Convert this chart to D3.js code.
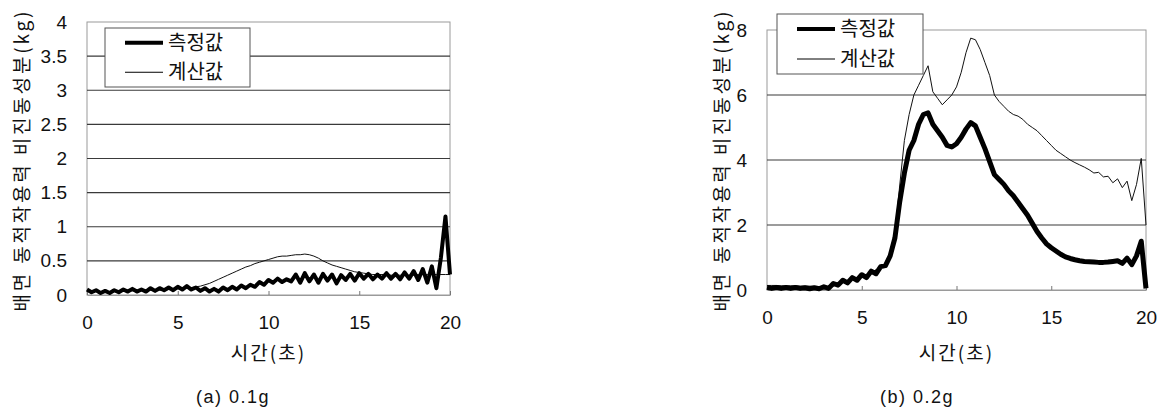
<!DOCTYPE html>
<html>
<head>
<meta charset="utf-8">
<script src="https://cdn.jsdelivr.net/npm/d3@7"></script>
<style>
  body { margin: 0; background: #fff; }
  svg { display: block; }
</style>
</head>
<body>
<div id="chart"></div>
<script>
// sample step (s) of every series below
const STEP = 0.25
const xTicks = [0, 5, 10, 15, 20]
const yTicksA = [0, 0.5, 1, 1.5, 2, 2.5, 3, 3.5, 4]
const yTicksB = [0, 2, 4, 6, 8]
const legendNames = ["측정값", "계산값"]
const xTitle = "시간(초)"
const yTitle = "배면 동적작용력 비진동성분(kg)"
const captions = ["(a) 0.1g", "(b) 0.2g"]

// (a) 0.1g
const measuredA = [
    0.08, 0.04, 0.07, 0.03, 0.06, 0.03, 0.07, 0.04, 0.08, 0.05,
    0.09, 0.05, 0.08, 0.05, 0.10, 0.06, 0.10, 0.07, 0.11, 0.07,
    0.12, 0.08, 0.13, 0.08, 0.11, 0.06, 0.10, 0.05, 0.09, 0.05,
    0.11, 0.07, 0.12, 0.08, 0.14, 0.10, 0.15, 0.12, 0.19, 0.15,
    0.22, 0.18, 0.24, 0.19, 0.23, 0.20, 0.30, 0.18, 0.32, 0.20,
    0.30, 0.18, 0.31, 0.21, 0.30, 0.17, 0.29, 0.22, 0.31, 0.21,
    0.32, 0.24, 0.31, 0.23, 0.30, 0.24, 0.32, 0.24, 0.31, 0.23,
    0.33, 0.24, 0.35, 0.22, 0.38, 0.18, 0.42, 0.10, 0.55, 1.15,
    0.30
]
const calculatedA = [
    0.05, 0.05, 0.05, 0.05, 0.05, 0.05, 0.05, 0.05, 0.06, 0.06,
    0.06, 0.06, 0.06, 0.06, 0.07, 0.07, 0.07, 0.07, 0.08, 0.08,
    0.09, 0.09, 0.10, 0.11, 0.12, 0.13, 0.15, 0.17, 0.20, 0.23,
    0.26, 0.29, 0.32, 0.35, 0.38, 0.41, 0.43, 0.46, 0.48, 0.50,
    0.52, 0.54, 0.56, 0.57, 0.57, 0.58, 0.59, 0.59, 0.60, 0.59,
    0.57, 0.54, 0.50, 0.47, 0.44, 0.42, 0.40, 0.38, 0.36, 0.34,
    0.33, 0.32, 0.31, 0.30, 0.30, 0.30, 0.30, 0.29, 0.29, 0.29,
    0.29, 0.29, 0.29, 0.30, 0.30, 0.30, 0.30, 0.30, 0.30, 0.30,
    0.30
]

// (b) 0.2g
const measuredB = [
    0.08, 0.05, 0.08, 0.05, 0.08, 0.05, 0.08, 0.05, 0.07, 0.04,
    0.07, 0.04, 0.10, 0.05, 0.20, 0.15, 0.30, 0.22, 0.38, 0.30,
    0.47, 0.38, 0.58, 0.50, 0.72, 0.75, 1.05, 1.60, 2.70, 3.60,
    4.30, 4.60, 5.10, 5.40, 5.45, 5.10, 4.90, 4.70, 4.45, 4.40,
    4.50, 4.70, 4.95, 5.15, 5.05, 4.70, 4.35, 3.95, 3.55, 3.40,
    3.25, 3.05, 2.90, 2.70, 2.50, 2.30, 2.05, 1.80, 1.60, 1.42,
    1.30, 1.20, 1.10, 1.02, 0.97, 0.93, 0.90, 0.88, 0.87, 0.86,
    0.85, 0.85, 0.86, 0.88, 0.90, 0.82, 0.98, 0.78, 1.05, 1.50,
    0.05
]
const calculatedB = [
    0.14, 0.14, 0.14, 0.13, 0.13, 0.13, 0.13, 0.12, 0.12, 0.12,
    0.11, 0.10, 0.10, 0.10, 0.12, 0.17, 0.24, 0.28, 0.34, 0.38,
    0.44, 0.48, 0.55, 0.62, 0.70, 0.80, 1.05, 1.70, 3.20, 4.60,
    5.40, 6.00, 6.30, 6.60, 6.90, 6.10, 5.90, 5.70, 5.85, 6.00,
    6.25, 6.70, 7.30, 7.75, 7.70, 7.40, 7.00, 6.60, 6.00, 5.80,
    5.65, 5.50, 5.40, 5.35, 5.25, 5.10, 5.00, 4.90, 4.75, 4.60,
    4.45, 4.30, 4.20, 4.10, 4.00, 3.92, 3.85, 3.78, 3.70, 3.60,
    3.62, 3.48, 3.50, 3.30, 3.42, 3.15, 3.35, 2.75, 3.25, 4.05,
    2.00
]


const width = 1163
const height = 412
const labelFont = "'Liberation Sans', Arial, sans-serif"
const krFont = "'Noto Sans CJK KR', 'Noto Sans', sans-serif"

const svg = d3.select("#chart")
    .append("svg")
    .attr("width", width)
    .attr("height", height)
    .attr("viewBox", [0, 0, width, height])

svg.append("rect").attr("width", width).attr("height", height).attr("fill", "#fff")

const toPoints = values => values.map((v, i) => ({ t: i * STEP, v }))

const panels = [
    {
        left: 87, right: 450, top: 22, bottom: 295,
        yMax: 4, yTicks: yTicksA,
        measured: measuredA, calculated: calculatedA, thick: 4,
        legend: { x0: 105, y0: 28, x1: 250, y1: 87 },
        yTitleX: 22, caption: captions[0], captionX: 233
    },
    {
        left: 767, right: 1146, top: 30, bottom: 290,
        yMax: 8, yTicks: yTicksB,
        measured: measuredB, calculated: calculatedB, thick: 5,
        legend: { x0: 777, y0: 14, x1: 923, y1: 74 },
        yTitleX: 722, caption: captions[1], captionX: 917
    }
]

const drawPanel = p => {
    const x = d3.scaleLinear().domain([0, 20]).range([p.left, p.right])
    const y = d3.scaleLinear().domain([0, p.yMax]).range([p.bottom, p.top])
    const g = svg.append("g")

    // plot frame (light, like the scan)
    g.append("rect")
        .attr("x", p.left).attr("y", p.top)
        .attr("width", p.right - p.left).attr("height", p.bottom - p.top)
        .attr("fill", "none")
        .attr("stroke", "#9a9a9a")
        .attr("stroke-width", 1)

    // horizontal grid
    g.append("g")
        .selectAll("line")
        .data(p.yTicks.filter(d => d > 0 && d < p.yMax))
        .join("line")
        .attr("x1", p.left).attr("x2", p.right)
        .attr("y1", d => y(d)).attr("y2", d => y(d))
        .attr("stroke", "#3a3a3a")
        .attr("stroke-width", 1.2)

    // x axis
    const xAxis = g.append("g")
        .attr("transform", `translate(0,${p.bottom})`)
        .call(d3.axisBottom(x).tickValues(xTicks).tickSizeInner(-4).tickSizeOuter(0).tickPadding(22))
    xAxis.select(".domain").attr("stroke", "#9a9a9a")
    xAxis.selectAll(".tick line").attr("stroke", "#777")
    xAxis.selectAll("text")
        .attr("dy", "0.32em")
        .attr("y", 28)
        .style("font-family", labelFont)
        .style("font-size", "19px")
        .attr("fill", "#111")

    // y axis
    const yAxis = g.append("g")
        .attr("transform", `translate(${p.left},0)`)
        .call(d3.axisLeft(y).tickValues(p.yTicks).tickSize(0).tickPadding(20).tickFormat(d3.format("")))
    yAxis.select(".domain").remove()
    yAxis.selectAll("text")
        .style("font-family", labelFont)
        .style("font-size", "19px")
        .attr("fill", "#111")

    const line = d3.line().x(d => x(d.t)).y(d => y(d.v))

    g.append("path")
        .datum(toPoints(p.calculated))
        .attr("fill", "none")
        .attr("stroke", "#111")
        .attr("stroke-width", 1)
        .attr("d", line)

    g.append("path")
        .datum(toPoints(p.measured))
        .attr("fill", "none")
        .attr("stroke", "#000")
        .attr("stroke-width", p.thick)
        .attr("stroke-linejoin", "round")
        .attr("d", line)

    // legend box
    const L = p.legend
    const lg = g.append("g")
    lg.append("rect")
        .attr("x", L.x0).attr("y", L.y0)
        .attr("width", L.x1 - L.x0).attr("height", L.y1 - L.y0)
        .attr("fill", "#fff")
        .attr("stroke", "#555")
        .attr("stroke-width", 1)
    const rowH = (L.y1 - L.y0) / 2
    const items = lg.selectAll(".legend-item")
        .data(legendNames)
        .join("g")
        .attr("class", "legend-item")
        .attr("transform", (d, i) => `translate(${L.x0 + 20}, ${L.y0 + rowH * (i + 0.5)})`)
    items.append("line")
        .attr("x1", 0).attr("x2", 38)
        .attr("stroke", "#000")
        .attr("stroke-width", (d, i) => i === 0 ? 3.8 : 1)
    items.append("text")
        .attr("x", 43)
        .attr("dy", "0.36em")
        .style("font-family", krFont)
        .style("font-size", "20px")
        .attr("fill", "#111")
        .text(d => d)

    // titles
    g.append("text")
        .attr("transform", `translate(${p.yTitleX},${(10 + 313) / 2}) rotate(-90)`)
        .attr("text-anchor", "middle")
        .attr("dy", "0.35em")
        .attr("textLength", 300)
        .attr("lengthAdjust", "spacing")
        .style("font-family", krFont)
        .style("font-size", "19px")
        .attr("fill", "#111")
        .text(yTitle)

    g.append("text")
        .attr("x", (p.left + p.right) / 2)
        .attr("y", 353)
        .attr("text-anchor", "middle")
        .attr("dy", "0.36em")
        .style("font-family", krFont)
        .style("font-size", "19px")
        .style("letter-spacing", "2px")
        .attr("fill", "#111")
        .text(xTitle)

    g.append("text")
        .attr("x", p.captionX)
        .attr("y", 397)
        .attr("text-anchor", "middle")
        .attr("dy", "0.35em")
        .style("font-family", labelFont)
        .style("font-size", "18px")
        .style("letter-spacing", "1.5px")
        .attr("fill", "#111")
        .text(p.caption)
}

panels.forEach(drawPanel)
</script>
</body>
</html>
